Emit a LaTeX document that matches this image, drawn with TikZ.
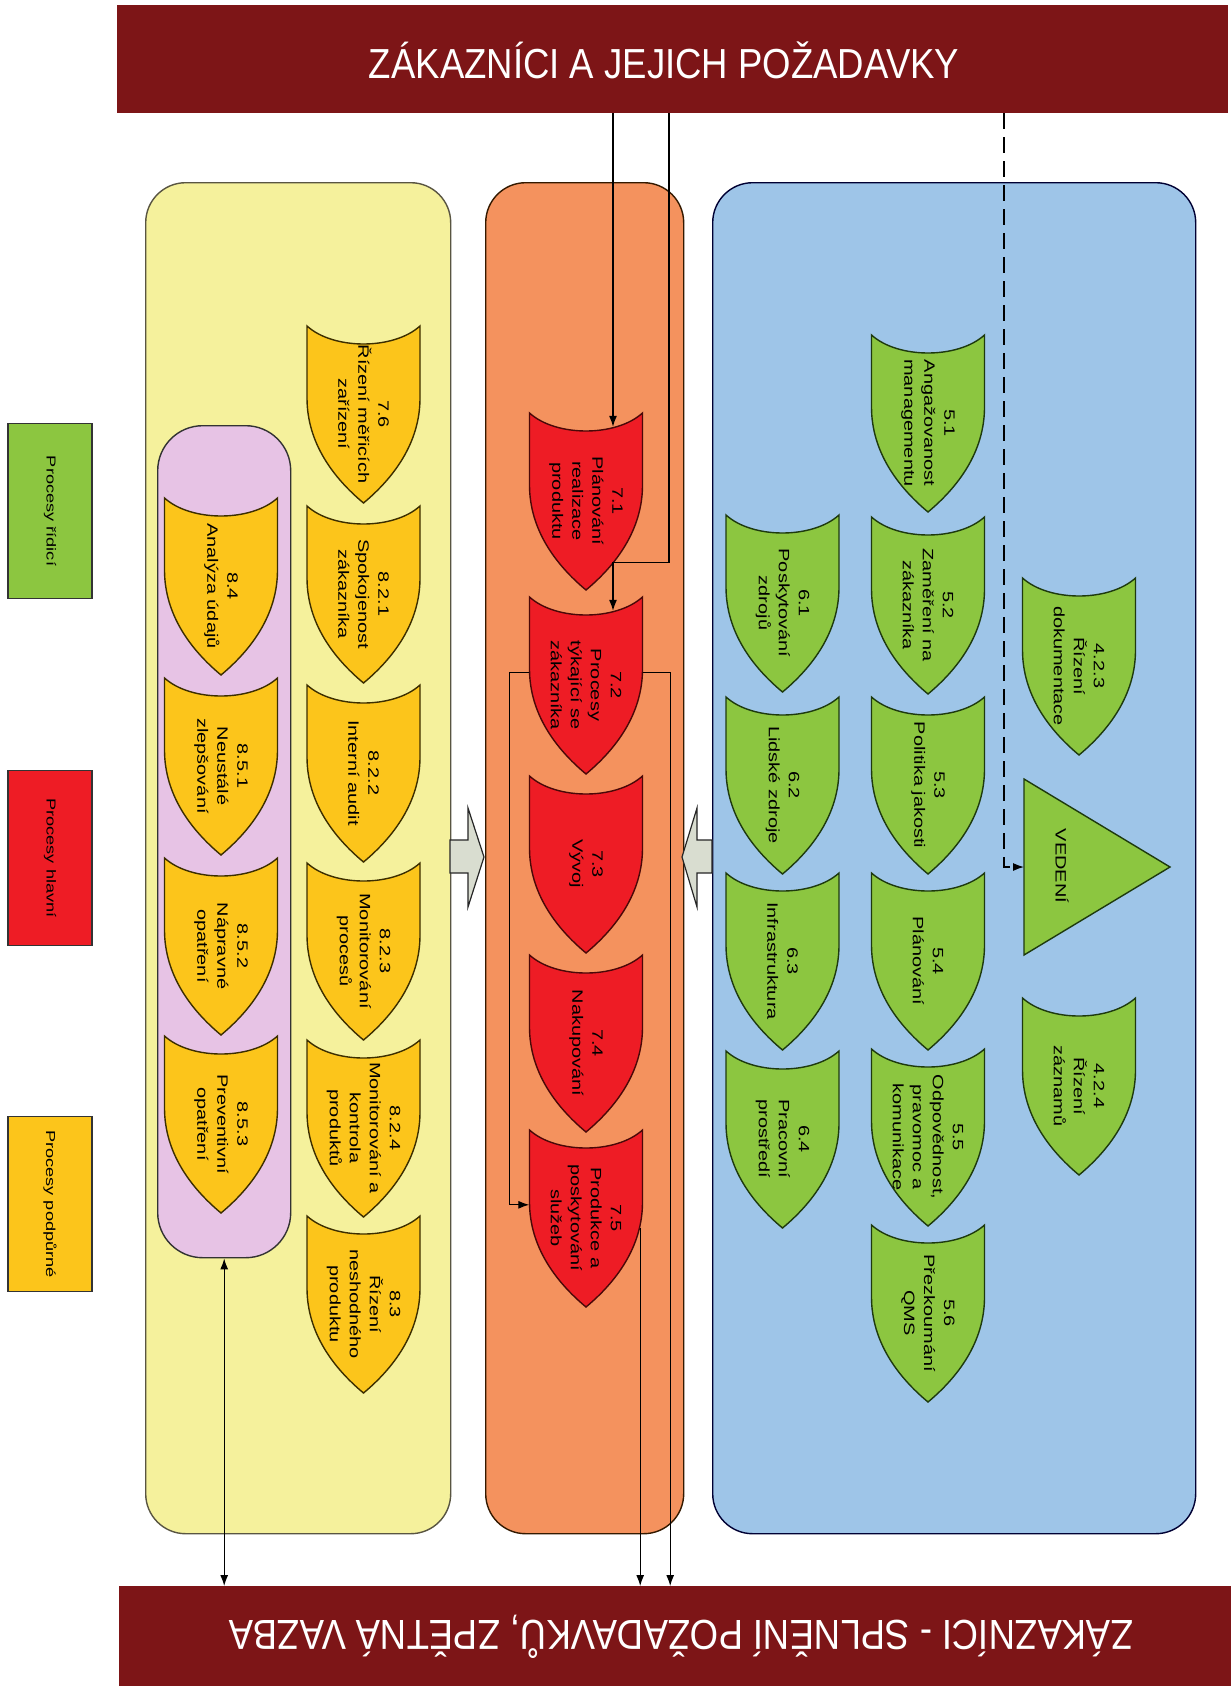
\documentclass[tikz,border=0pt]{standalone}
\usepackage{fontspec}
\setmainfont{Liberation Sans}
\usetikzlibrary{arrows.meta,calc}
\definecolor{barred}{HTML}{7D1517}
\definecolor{ypanelc}{HTML}{F5F19C}
\definecolor{opanelc}{HTML}{F4925E}
\definecolor{bpanelc}{HTML}{9EC5E8}
\definecolor{ppanelc}{HTML}{E7C3E5}
\definecolor{yshield}{HTML}{FCC51B}
\definecolor{rshield}{HTML}{EE1C25}
\definecolor{gshield}{HTML}{8CC640}
\definecolor{grayarrow}{HTML}{D9DDD0}
\definecolor{ydraw}{HTML}{3C2E00}
\definecolor{rdraw}{HTML}{4A0808}
\definecolor{gdraw}{HTML}{1E3A0E}

% shield: name, centre x, top y, style, text
\newcommand\shieldat[5]{%
  \begin{scope}[shift={(#2,#3)}]
    \draw[#4] (-56.5,0) .. controls (-30,24) and (30,24) .. (56.5,0)
      -- (56.5,72) .. controls (56.5,117) and (30,152) .. (0,177)
      .. controls (-30,152) and (-56.5,117) .. (-56.5,72) -- cycle;
    \node[shieldbox] (#1) at (0,88.5) {};
    \node[shieldtext] (#1-t) at (0,88) {#5};
  \end{scope}}

\begin{document}
\begin{tikzpicture}[x=1pt,y=-1pt,
  bar/.style={rectangle, fill=barred, draw=none, inner sep=0, anchor=north west},
  bartext/.style={text=white, font=\fontsize{42}{46}\selectfont, inner sep=0, xscale=0.87},
  panel/.style={rectangle, rounded corners=40pt, line width=1.4pt, inner sep=0, anchor=north west},
  ysh/.style={fill=yshield, draw=ydraw, line width=1.4pt},
  rsh/.style={fill=rshield, draw=rdraw, line width=1.4pt},
  gsh/.style={fill=gshield, draw=gdraw, line width=1.4pt},
  shieldbox/.style={rectangle, minimum width=113pt, minimum height=177pt, inner sep=0},
  shieldtext/.style={rotate=-90, xscale=1.33, align=center, inner sep=0, font=\fontsize{15}{20}\selectfont},
  legendbox/.style={rectangle, draw=black!80, line width=1.4pt, minimum width=84pt, minimum height=175pt, inner sep=0},
  legendtext/.style={rotate=-90, xscale=1.4, inner sep=0, font=\fontsize{13}{16}\selectfont},
  garrow/.style={fill=grayarrow, draw=black!85, line width=1.2pt, line join=miter},
  conn/.style={draw=black, line width=1.2pt, -{Latex[length=11pt,width=8pt]}},
  conntwo/.style={draw=black, line width=1.2pt, {Latex[length=11pt,width=8pt]}-{Latex[length=11pt,width=8pt]}}
]
\useasboundingbox (0,0) rectangle (1231,1686);
\fill[white] (0,0) rectangle (1231,1686);

% top and bottom bars
\node[bar, minimum width=1111pt, minimum height=108pt] (topbar) at (117,5) {};
\node[bartext] (toptext) at (664,60) {ZÁKAZNÍCI A JEJICH POŽADAVKY};
\node[bar, minimum width=1112pt, minimum height=100pt] (botbar) at (119,1586) {};
\node[bartext, rotate=180] (bottext) at (681,1637) {ZÁKAZNÍCI - SPLNĚNÍ POŽADAVKŮ, ZPĚTNÁ VAZBA};

% panels
\node[panel, fill=ypanelc, draw=black!75!yellow, minimum width=305pt, minimum height=1351pt] (panelY) at (145,182) {};
\node[panel, fill=opanelc, draw=black!80!orange, minimum width=198pt, minimum height=1351pt] (panelO) at (485,182) {};
\node[panel, fill=bpanelc, draw=black!80!blue, minimum width=483pt, minimum height=1351pt] (panelB) at (712,182) {};
\node[panel, rounded corners=45pt, fill=ppanelc, draw=black!80, minimum width=133pt, minimum height=832pt] (panelP) at (157,425) {};

% legend
\node[legendbox, fill=gshield] (lg1) at (50,511) {};
\node[legendtext] (lg1-t) at (lg1.center) {Procesy řídicí};
\node[legendbox, fill=rshield] (lg2) at (50,858) {};
\node[legendtext] (lg2-t) at (lg2.center) {Procesy hlavní};
\node[legendbox, fill=yshield] (lg3) at (50,1204) {};
\node[legendtext] (lg3-t) at (lg3.center) {Procesy podpůrné};

% block arrows between the panels
\draw[garrow] (450,840) -- (468,840) -- (468,808) -- (484,857) -- (468,907) -- (468,873) -- (450,873) -- cycle;
\draw[garrow] (712,840) -- (697,840) -- (697,808) -- (682,857) -- (697,907) -- (697,873) -- (712,873) -- cycle;

% support processes
\shieldat{y76}{363.5}{326}{ysh}{7.6\\Řízení měřicích\\zařízení}
\shieldat{y821}{363.5}{506}{ysh}{8.2.1\\Spokojenost\\zákazníka}
\shieldat{y822}{363.5}{685}{ysh}{8.2.2\\Interní audit}
\shieldat{y823}{363.5}{863}{ysh}{8.2.3\\Monitorování\\procesů}
\shieldat{y824}{363.5}{1040}{ysh}{8.2.4\\Monitorování a\\kontrola\\produktů}
\shieldat{y83}{363.5}{1216}{ysh}{8.3\\Řízení\\neshodného\\produktu}
\shieldat{p84}{221}{498}{ysh}{8.4\\Analýza údajů}
\shieldat{p851}{221}{678}{ysh}{8.5.1\\Neustálé\\zlepšování}
\shieldat{p852}{221}{858}{ysh}{8.5.2\\Nápravné\\opatření}
\shieldat{p853}{221}{1036}{ysh}{8.5.3\\Preventivní\\opatření}

% main processes
\shieldat{r71}{586}{413}{rsh}{7.1\\Plánování\\realizace\\produktu}
\shieldat{r72}{586}{597}{rsh}{7.2\\Procesy\\týkající se\\zákazníka}
\shieldat{r73}{586}{776}{rsh}{7.3\\Vývoj}
\shieldat{r74}{586}{955}{rsh}{7.4\\Nakupování}
\shieldat{r75}{586}{1130}{rsh}{7.5\\Produkce a\\poskytování\\služeb}

% management processes
\shieldat{g51}{928}{335}{gsh}{5.1\\Angažovanost\\managementu}
\shieldat{g52}{928}{517}{gsh}{5.2\\Zaměření na\\zákazníka}
\shieldat{g53}{928}{697}{gsh}{5.3\\Politika jakosti}
\shieldat{g54}{928}{873}{gsh}{5.4\\Plánování}
\shieldat{g55}{928}{1049}{gsh}{5.5\\Odpovědnost,\\pravomoc a\\komunikace}
\shieldat{g56}{928}{1225}{gsh}{5.6\\Přezkoumání\\QMS}
\shieldat{g61}{782.5}{515}{gsh}{6.1\\Poskytování\\zdrojů}
\shieldat{g62}{782.5}{697}{gsh}{6.2\\Lidské zdroje}
\shieldat{g63}{782.5}{873}{gsh}{6.3\\Infrastruktura}
\shieldat{g64}{782.5}{1051}{gsh}{6.4\\Pracovní\\prostředí}
\shieldat{g423}{1079}{578}{gsh}{4.2.3\\Řízení\\dokumentace}
\shieldat{g424}{1079}{998}{gsh}{4.2.4\\Řízení\\záznamů}

% leadership triangle
\draw[gsh] (1024,779) -- (1170,867) -- (1024,955) -- cycle;
\node[rotate=-90, xscale=1.33, inner sep=0, font=\fontsize{15}{18}\selectfont] (vedeni) at (1062,866) {VEDENÍ};

% connectors
\coordinate (a71) at ($(r71.north)+(27,14)$);
\coordinate (a72) at ($(r72.north)+(27,14)$);
\coordinate (j72) at ($(r71.north)+(83,150)$);
\coordinate (l72) at ($(r72.north west)+(0,76)$);
\coordinate (r72c) at ($(r72.north east)+(0,76)$);
\coordinate (r72d) at ($(r72c)+(27.5,0)$);
\coordinate (l75) at ($(r75.north west)+(0,75)$);
\coordinate (b75) at ($(r75.north east)+(-2.5,98)$);
\coordinate (vin) at (1024,867);
\coordinate (dk) at (1004,867);

\draw[conn] (topbar.south -| a71) -- (a71);
\draw[conn] (topbar.south -| j72) |- (a72 |- j72) -- (a72);
\draw[conn] (l72) -- ++(-20,0) |- (l75);
\draw[conn] (r72c) -- (r72d) -- (r72d |- botbar.north);
\draw[conn] (b75) -- (b75 |- botbar.north);
\draw[conntwo] (panelP.south) -- (panelP.south |- botbar.north);
\draw[conn, dash pattern=on 16pt off 8pt] (topbar.south -| dk) -- (dk) -- (vin);
\end{tikzpicture}
\end{document}
